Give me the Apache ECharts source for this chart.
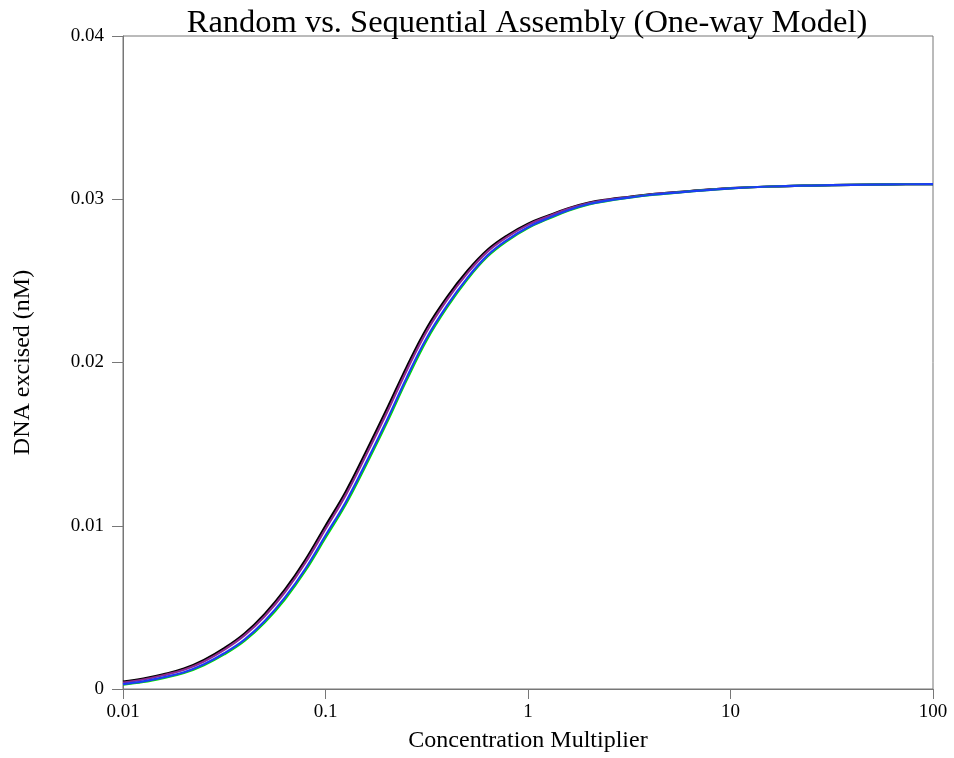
<!DOCTYPE html>
<html>
<head>
<meta charset="utf-8">
<script src="https://cdn.jsdelivr.net/npm/echarts@6/dist/echarts.min.js"></script>
<style>
html,body{margin:0;padding:0;background:#fff;}
#chart{width:954px;height:758px;}
</style>
</head>
<body>
<div id="chart"></div>
<script>
// Concentration multiplier (log-spaced sample points)
var concentration = [0.01, 0.0126, 0.0158, 0.02, 0.0251, 0.0316, 0.0398, 0.0501, 0.0631, 0.0794,
  0.1, 0.126, 0.158, 0.2, 0.251, 0.316, 0.398, 0.501, 0.631, 0.794,
  1, 1.26, 1.58, 2, 2.51, 3.16, 3.98, 5.01, 6.31, 7.94,
  10, 15.8, 25.1, 39.8, 63.1, 100];

// DNA excised (nM) for each curve
var blackSeries = [0.00045, 0.00064, 0.00090, 0.00125, 0.00178, 0.00250, 0.00340, 0.00460, 0.00610, 0.00790,
  0.01000, 0.01210, 0.01450, 0.01710, 0.01970, 0.02210, 0.02400, 0.02560, 0.02690, 0.02780,
  0.02850, 0.02900, 0.02945, 0.02980, 0.03000, 0.03015, 0.03030, 0.03040, 0.03050, 0.03060,
  0.03068, 0.03078, 0.03084, 0.03088, 0.03091, 0.03093];
var purpleSeries = [0.00040, 0.00058, 0.00084, 0.00118, 0.00169, 0.00240, 0.00328, 0.00446, 0.00594, 0.00772,
  0.00980, 0.01189, 0.01428, 0.01687, 0.01948, 0.02190, 0.02383, 0.02546, 0.02679, 0.02771,
  0.02843, 0.02895, 0.02941, 0.02977, 0.02998, 0.03013, 0.03029, 0.03039, 0.03049, 0.03059,
  0.03068, 0.03078, 0.03084, 0.03088, 0.03091, 0.03093];
var greenSeries = [0.00027, 0.00043, 0.00067, 0.00098, 0.00146, 0.00212, 0.00295, 0.00408, 0.00550, 0.00723,
  0.00927, 0.01132, 0.01368, 0.01626, 0.01889, 0.02137, 0.02337, 0.02508, 0.02649, 0.02747,
  0.02824, 0.02880, 0.02930, 0.02969, 0.02991, 0.03009, 0.03025, 0.03036, 0.03048, 0.03058,
  0.03067, 0.03078, 0.03084, 0.03088, 0.03091, 0.03093];
var blueSeries = [0.00030, 0.00047, 0.00071, 0.00103, 0.00152, 0.00219, 0.00303, 0.00417, 0.00561, 0.00735,
  0.00940, 0.01146, 0.01383, 0.01641, 0.01904, 0.02150, 0.02348, 0.02517, 0.02656, 0.02753,
  0.02829, 0.02884, 0.02933, 0.02971, 0.02993, 0.03010, 0.03026, 0.03037, 0.03048, 0.03058,
  0.03067, 0.03078, 0.03084, 0.03088, 0.03091, 0.03093];

var yTicks = [0, 0.01, 0.02, 0.03, 0.04];
var xTickLabels = ['0.01', '0.1', '1', '10', '100'];

function pairs(ys) {
  return concentration.map(function (x, i) { return [x, ys[i]]; });
}

var FONT = '"Liberation Serif", "DejaVu Serif", serif';
var AXIS = '#777777';

var chart = echarts.init(document.getElementById('chart'), null, {renderer: 'canvas'});

function lineSeries(name, color, data) {
  return {
    name: name, type: 'line', data: pairs(data), smooth: 0.4,
    showSymbol: false, symbol: 'none',
    lineStyle: {color: color, width: 2.2}, itemStyle: {color: color}, animation: false, z: 2
  };
}

chart.setOption({
  animation: false,
  backgroundColor: '#ffffff',
  title: {
    text: 'Random vs. Sequential Assembly (One-way Model)',
    left: 522, top: 2, textAlign: 'center',
    textStyle: {fontFamily: FONT, fontSize: 32.5, fontWeight: 'normal', color: '#000'}
  },
  grid: {left: 123, right: 21, top: 36, bottom: 66, show: true, borderColor: AXIS, borderWidth: 1, containLabel: false},
  xAxis: {
    type: 'log', logBase: 10, min: 0.01, max: 100,
    name: 'Concentration Multiplier', nameLocation: 'middle', nameGap: 40,
    nameTextStyle: {fontFamily: FONT, fontSize: 24, color: '#000'},
    axisLine: {show: true, lineStyle: {color: AXIS, width: 1}},
    axisTick: {show: true, length: 10, lineStyle: {color: AXIS}},
    minorTick: {show: false},
    splitLine: {show: false},
    axisLabel: {
      margin: 14, fontFamily: FONT, fontSize: 19, color: '#000',
      formatter: function (v) {
        var k = Math.round(Math.log10(v)) + 2;
        return xTickLabels[k] !== undefined ? xTickLabels[k] : String(v);
      }
    }
  },
  yAxis: {
    type: 'value', min: yTicks[0], max: yTicks[yTicks.length - 1], interval: 0.01,
    name: 'DNA excised (nM)', nameLocation: 'middle', nameGap: 88, nameRotate: 90,
    nameTextStyle: {fontFamily: FONT, fontSize: 24, color: '#000'},
    axisLine: {show: true, lineStyle: {color: AXIS, width: 1}},
    axisTick: {show: true, length: 11, lineStyle: {color: AXIS}},
    splitLine: {show: false},
    axisLabel: {
      margin: 19, fontFamily: FONT, fontSize: 19, color: '#000',
      formatter: function (v) { return String(parseFloat(v.toFixed(2))); }
    }
  },
  series: [
    lineSeries('black', '#000000', blackSeries),
    lineSeries('purple', '#8e2a8e', purpleSeries),
    lineSeries('green', '#00e000', greenSeries),
    lineSeries('blue', '#1c3cf5', blueSeries)
  ]
});
</script>
</body>
</html>
